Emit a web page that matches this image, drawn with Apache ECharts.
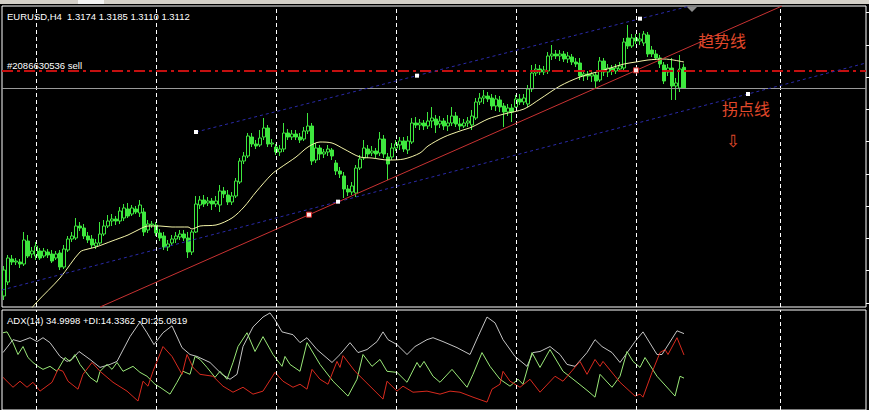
<!DOCTYPE html>
<html><head><meta charset="utf-8">
<script src="https://cdn.jsdelivr.net/npm/echarts@6/dist/echarts.min.js"></script>
<style>html,body{margin:0;padding:0;background:#000;overflow:hidden}#c{width:869px;height:410px}</style>
</head><body><div id="c"></div>
<script>
// ---- price data (EURUSD H4), bar index 0..170 ----
const opens = [1.2488,1.2530,1.2599,1.2590,1.2590,1.2584,1.2653,1.2614,1.2608,1.2623,
1.2608,1.2620,1.2614,1.2602,1.2617,1.2575,1.2626,1.2659,1.2662,1.2698,
1.2692,1.2668,1.2659,1.2638,1.2647,1.2674,1.2698,1.2713,1.2719,1.2713,
1.2722,1.2749,1.2734,1.2749,1.2737,1.2740,1.2686,1.2701,1.2701,1.2677,
1.2668,1.2635,1.2647,1.2659,1.2665,1.2674,1.2662,1.2620,1.2680,1.2761,
1.2776,1.2767,1.2773,1.2764,1.2761,1.2803,1.2791,1.2770,1.2788,1.2830,
1.2893,1.2908,1.2965,1.2944,1.2941,1.2965,1.2992,1.2944,1.2935,1.2920,
1.2929,1.2977,1.2965,1.2974,1.2965,1.2959,1.2983,1.2998,1.2896,1.2932,
1.2914,1.2920,1.2926,1.2887,1.2863,1.2848,1.2809,1.2800,1.2797,1.2872,
1.2902,1.2929,1.2917,1.2923,1.2917,1.2959,1.2905,1.2905,1.2932,1.2941,
1.2953,1.2926,1.2950,1.3007,1.3001,1.3007,1.2998,1.3013,1.3019,1.3004,
1.3013,1.2998,1.3007,1.3028,1.3004,1.2998,1.3007,1.3001,1.3022,1.3070,
1.3082,1.3088,1.3082,1.3058,1.3076,1.3058,1.3040,1.3052,1.3055,1.3079,
1.3070,1.3064,1.3109,1.3157,1.3169,1.3160,1.3163,1.3208,1.3214,1.3208,
1.3214,1.3199,1.3205,1.3190,1.3187,1.3148,1.3154,1.3148,1.3151,1.3136,
1.3193,1.3160,1.3172,1.3163,1.3169,1.3172,1.3262,1.3238,1.3262,1.3253,
1.3247,1.3271,1.3226,1.3214,1.3202,1.3181,1.3160,1.3172,1.3118,1.3112,
1.3174];
const closes = [1.2566,1.2602,1.2590,1.2593,1.2584,1.2656,1.2608,1.2623,1.2638,1.2602,
1.2623,1.2611,1.2593,1.2614,1.2575,1.2629,1.2659,1.2668,1.2698,1.2692,
1.2668,1.2656,1.2641,1.2647,1.2674,1.2698,1.2713,1.2719,1.2713,1.2743,
1.2752,1.2728,1.2752,1.2740,1.2761,1.2680,1.2704,1.2704,1.2677,1.2662,
1.2635,1.2644,1.2659,1.2668,1.2674,1.2662,1.2620,1.2680,1.2764,1.2776,
1.2764,1.2773,1.2764,1.2773,1.2803,1.2794,1.2770,1.2788,1.2833,1.2893,
1.2908,1.2968,1.2944,1.2938,1.2962,1.2992,1.2944,1.2947,1.2920,1.2929,
1.2977,1.2965,1.2974,1.2965,1.2956,1.2983,1.2998,1.2893,1.2932,1.2914,
1.2920,1.2929,1.2908,1.2863,1.2854,1.2809,1.2800,1.2818,1.2872,1.2899,
1.2932,1.2914,1.2923,1.2914,1.2959,1.2914,1.2884,1.2932,1.2944,1.2953,
1.2929,1.2953,1.3007,1.3001,1.3007,1.2998,1.3013,1.3022,1.3001,1.3013,
1.2998,1.3007,1.3028,1.3004,1.2998,1.3007,1.3013,1.3028,1.3070,1.3082,
1.3088,1.3079,1.3058,1.3079,1.3055,1.3040,1.3052,1.3040,1.3079,1.3070,
1.3082,1.3109,1.3157,1.3169,1.3160,1.3166,1.3208,1.3214,1.3208,1.3214,
1.3199,1.3208,1.3190,1.3184,1.3148,1.3154,1.3148,1.3154,1.3133,1.3193,
1.3160,1.3172,1.3163,1.3172,1.3178,1.3250,1.3238,1.3262,1.3253,1.3259,
1.3274,1.3214,1.3214,1.3202,1.3184,1.3133,1.3172,1.3118,1.3127,1.3169,
1.3112];
const lows = [1.2476,1.2521,1.2581,1.2581,1.2572,1.2578,1.2602,1.2602,1.2596,1.2596,
1.2602,1.2602,1.2587,1.2596,1.2566,1.2569,1.2620,1.2650,1.2656,1.2683,
1.2659,1.2647,1.2632,1.2629,1.2641,1.2668,1.2692,1.2698,1.2701,1.2704,
1.2713,1.2722,1.2728,1.2734,1.2725,1.2668,1.2677,1.2692,1.2668,1.2653,
1.2626,1.2623,1.2638,1.2647,1.2656,1.2653,1.2602,1.2611,1.2677,1.2749,
1.2755,1.2758,1.2746,1.2755,1.2740,1.2782,1.2761,1.2761,1.2782,1.2824,
1.2884,1.2902,1.2935,1.2929,1.2935,1.2956,1.2935,1.2935,1.2911,1.2908,
1.2920,1.2956,1.2956,1.2956,1.2947,1.2953,1.2974,1.2881,1.2887,1.2896,
1.2902,1.2908,1.2896,1.2851,1.2842,1.2782,1.2788,1.2791,1.2785,1.2866,
1.2896,1.2902,1.2908,1.2902,1.2908,1.2902,1.2836,1.2896,1.2923,1.2926,
1.2920,1.2914,1.2944,1.2992,1.2986,1.2986,1.2989,1.2992,1.2977,1.2992,
1.2986,1.2983,1.2998,1.2995,1.2986,1.2992,1.2995,1.2986,1.3016,1.3061,
1.3064,1.3070,1.3046,1.3043,1.3040,1.2995,1.3028,1.3010,1.3052,1.3061,
1.3061,1.3055,1.3100,1.3148,1.3151,1.3151,1.3154,1.3196,1.3199,1.3193,
1.3190,1.3187,1.3181,1.3175,1.3136,1.3133,1.3136,1.3130,1.3112,1.3130,
1.3148,1.3145,1.3151,1.3154,1.3160,1.3166,1.3229,1.3232,1.3244,1.3241,
1.3238,1.3205,1.3205,1.3196,1.3172,1.3124,1.3148,1.3076,1.3076,1.3100,
1.3110];
const highs = [1.2578,1.2611,1.2611,1.2602,1.2599,1.2680,1.2671,1.2635,1.2650,1.2632,
1.2632,1.2629,1.2626,1.2623,1.2626,1.2641,1.2668,1.2680,1.2722,1.2710,
1.2704,1.2680,1.2671,1.2659,1.2710,1.2716,1.2731,1.2734,1.2728,1.2755,
1.2764,1.2767,1.2761,1.2758,1.2776,1.2752,1.2716,1.2713,1.2710,1.2689,
1.2680,1.2656,1.2671,1.2680,1.2686,1.2686,1.2680,1.2686,1.2788,1.2788,
1.2791,1.2785,1.2782,1.2788,1.2821,1.2815,1.2806,1.2800,1.2842,1.2902,
1.2920,1.2977,1.2977,1.2956,1.2986,1.3022,1.3001,1.2959,1.2944,1.2941,
1.3007,1.2989,1.2986,1.2986,1.2977,1.2995,1.3037,1.3007,1.2947,1.2941,
1.2929,1.2941,1.2932,1.2896,1.2875,1.2860,1.2821,1.2830,1.2881,1.2911,
1.2956,1.2941,1.2938,1.2932,1.2980,1.2971,1.2917,1.2947,1.2956,1.2965,
1.2965,1.2968,1.3022,1.3025,1.3019,1.3016,1.3040,1.3055,1.3031,1.3028,
1.3022,1.3031,1.3055,1.3040,1.3022,1.3019,1.3025,1.3046,1.3082,1.3097,
1.3106,1.3100,1.3094,1.3091,1.3088,1.3067,1.3064,1.3064,1.3091,1.3094,
1.3094,1.3121,1.3181,1.3184,1.3181,1.3178,1.3220,1.3241,1.3226,1.3226,
1.3223,1.3220,1.3214,1.3202,1.3202,1.3166,1.3163,1.3166,1.3160,1.3205,
1.3202,1.3184,1.3181,1.3184,1.3190,1.3262,1.3301,1.3274,1.3274,1.3277,
1.3283,1.3280,1.3238,1.3226,1.3211,1.3190,1.3184,1.3202,1.3142,1.3211,
1.3185];

// moving average: [bar, price]
const maPoints = [[5,1.2422],[8,1.2467],[14,1.2542],[19,1.2620],[21,1.2629],[23,1.2635],[27,1.2653],[31,1.2671],[34,1.2689],[36,1.2698],[39,1.2698],[42,1.2695],[46,1.2695],[47,1.2689],[49,1.2698],[53,1.2701],[57,1.2722],[60,1.2755],[63,1.2800],[67,1.2854],[69,1.2872],[73,1.2905],[76,1.2935],[79,1.2950],[82,1.2947],[85,1.2929],[89,1.2905],[92,1.2902],[96,1.2896],[100,1.2899],[104,1.2917],[106,1.2938],[110,1.2965],[114,1.2983],[117,1.2995],[121,1.3019],[125,1.3034],[130,1.3049],[134,1.3079],[139,1.3118],[144,1.3145],[150,1.3166],[155,1.3184],[158,1.3190],[161,1.3196],[165,1.3199],[170,1.3190]];

// drawn objects: [bar, price]
const trendLine = [[24,1.2455],[194.5,1.3358]];
const trendAnchors = [[76.25,1.2732],[158,1.3165]];
const upperChannel = [[48,1.2980],[171.5,1.3358]];
const lowerChannel = [[-0.5,1.2506],[215.5,1.3187]];
const channelAnchors = [[48,1.2980],[103.25,1.3149],[159,1.3320],[83.5,1.2771],[186,1.3094]];
const sellPrice = 1.3163;
const bidPrice = 1.3112;
const gridBars = [8,38,68,98,128,158,194];
const priceTicks = [1.2467,1.2564,1.2661,1.2757,1.2854,1.2951,1.3048,1.3144,1.3241,1.3338];

// ADX(14) panel: [bar, value]
const adx = [[-0.25,26.2],[2.25,32.2],[4,31.3],[6.5,33.1],[8.25,31.3],[9.75,33.1],[11.5,30.8],[14,24.4],[15.75,22.1],[17,23.0],[18.75,26.7],[21.5,23.0],[24,19.3],[26.5,20.7],[28.25,22.1],[31.5,33.6],[34,40.4],[35.75,35.4],[37.5,29.9],[39.75,35.4],[42,38.6],[44.5,28.5],[46.5,25.3],[48.25,24.4],[51.5,21.6],[54.5,16.1],[56.5,13.8],[58.25,16.1],[59.75,29.0],[62.25,38.1],[64.75,42.7],[66.5,44.6],[67.75,41.4],[69.5,35.8],[72.25,34.5],[74,30.8],[75.75,33.1],[78.25,27.6],[82,21.6],[84,25.3],[86.5,30.8],[88.5,26.2],[90.75,27.6],[93.25,31.3],[94.75,35.8],[96,32.2],[98.25,29.9],[100.75,25.3],[102.75,29.0],[105.75,32.2],[107.25,33.1],[109.75,31.3],[113.25,28.5],[116.5,25.3],[118.5,33.6],[120.75,42.7],[122.75,40.0],[124.75,32.2],[127.75,24.4],[130.75,19.8],[132.25,26.2],[134,26.7],[136.5,29.0],[139,25.3],[140.75,20.7],[142.75,19.8],[145.75,26.2],[147.75,32.2],[149.5,29.0],[152,26.2],[154,21.6],[156,26.7],[157.75,31.3],[159.75,35.8],[163.25,25.3],[164.5,25.3],[168.25,36.3],[170,35.0]];
const plusDI = [[-0.25,35.4],[0.75,35.8],[2.25,30.8],[3.5,25.3],[4.75,29.0],[6,23.9],[7.25,21.6],[8.5,19.8],[9.75,18.4],[11.5,19.8],[13.25,17.5],[15.25,23.9],[16.5,22.1],[17.75,25.3],[19,20.7],[21.5,14.7],[23.25,12.4],[24,17.5],[25.75,20.7],[27,18.4],[28.25,21.6],[29.75,17.5],[32.25,19.8],[34,17.0],[35.75,15.2],[37.75,11.5],[39,10.1],[41.5,6.9],[43.25,12.4],[44.75,17.5],[46.5,16.1],[47.75,24.4],[49,23.0],[50.75,19.3],[52.75,14.7],[54,17.5],[55.75,13.8],[57.25,21.6],[58.5,29.0],[60.75,35.4],[62.75,26.7],[64.75,33.6],[67.25,25.3],[69.5,19.8],[70.25,24.4],[71.5,20.7],[74,17.5],[75.75,30.8],[79,20.7],[82.25,12.9],[86,6.0],[88.25,13.8],[89.75,25.3],[92,19.8],[94,23.0],[95.75,17.5],[98.25,17.0],[100.75,12.4],[103.25,21.6],[104,19.3],[105,22.1],[107.25,15.2],[109,12.4],[112,18.4],[115.75,10.1],[117.25,16.1],[119.5,26.2],[121.5,19.8],[124,13.8],[126.5,10.6],[128.5,13.8],[129.75,11.5],[132,26.2],[134,19.3],[136.5,27.6],[139.75,17.5],[143.25,12.4],[146,8.3],[147.75,5.5],[149,16.1],[152,10.1],[154,15.2],[155.75,26.7],[157.25,22.1],[159,19.3],[160.25,23.9],[163.25,15.2],[167.75,6.0],[169,15.2],[170,14.34]];
const minusDI = [[-0.25,14.7],[2.25,10.1],[4,12.9],[5.75,10.1],[7.25,12.4],[9,8.3],[12,12.4],[13.5,18.4],[14.75,17.5],[16,12.9],[18.5,9.2],[19.75,16.1],[22,21.6],[24,17.5],[27.25,12.4],[30.75,8.3],[33.5,3.7],[34.75,12.9],[36,10.6],[37.25,17.5],[39.75,29.0],[42,24.4],[44.5,16.1],[45.75,25.3],[47.25,19.3],[49,16.1],[52.25,15.2],[54.75,10.6],[57.25,7.8],[59.75,10.1],[62.25,6.9],[64.75,8.3],[67.75,17.0],[69.75,12.9],[72.25,10.1],[74,11.5],[75.75,9.2],[77,18.4],[79,13.8],[81,11.5],[83.25,22.1],[84,19.3],[84.75,24.8],[87.75,17.5],[91.5,10.6],[94.75,4.6],[95.75,12.9],[98.25,8.3],[99.75,10.6],[102.25,7.8],[105.75,8.3],[109,6.9],[111.5,8.3],[114,7.8],[117.25,5.5],[120.75,3.2],[122,9.2],[124,11.5],[124.75,17.5],[126.5,12.9],[129,10.1],[131.5,13.8],[134,7.8],[137.75,15.2],[139.75,12.9],[144,22.1],[145.75,16.1],[147.75,23.0],[149,19.8],[149.75,22.1],[154,12.4],[157.75,6.0],[159,6.9],[159.75,5.5],[162,17.0],[164,26.2],[165.25,27.6],[166,25.3],[168.25,33.1],[170,25.08]];

const headerSymbol = 'EURUSD,H4';
const headerPrices = '1.3174 1.3185 1.3110 1.3112';
const orderLabel = '#2086630536 sell';
const adxLabel = 'ADX(14) 34.9998 +DI:14.3362 -DI:25.0819';

// ---- chart ----
const SLOTS = 216;
const slots = Array.from({length: SLOTS}, (_, i) => String(i));
const candles = opens.map((o, i) => [o, closes[i], lows[i], highs[i]]);
const green = '#3ee83e';
const font = '"Liberation Sans", Arial, sans-serif';
const vlines = gridBars.map(b => ({xAxis: b}));

function levelSeries(xi, yi, y0, lines, style, z) {
  return {type: 'line', xAxisIndex: xi, yAxisIndex: yi, data: [[-5, y0]], symbol: 'none', z: z, silent: true,
    lineStyle: {width: 0}, itemStyle: {color: style.color},
    markLine: {silent: true, precision: 4, symbol: ['none', 'none'], label: {show: false},
      emphasis: {disabled: true}, lineStyle: style, data: lines}};
}

const chart = echarts.init(document.getElementById('c'), null, {renderer: 'svg', width: 869, height: 410});
chart.setOption({
  backgroundColor: '#000',
  animation: false,
  grid: [
    {left: 2, right: 3, top: 6, height: 301, show: true, borderColor: '#ffffff', borderWidth: 1, backgroundColor: '#000'},
    {left: 2, right: 3, top: 310, height: 101, show: true, borderColor: '#ffffff', borderWidth: 1, backgroundColor: '#000'}
  ],
  xAxis: [
    {type: 'category', gridIndex: 0, data: slots, boundaryGap: true, show: false},
    {type: 'value', gridIndex: 0, min: -0.5, max: SLOTS - 0.5, show: false},
    {type: 'value', gridIndex: 1, min: -0.5, max: SLOTS - 0.5, show: false}
  ],
  yAxis: [
    {type: 'value', gridIndex: 0, min: 1.2455, max: 1.3358, position: 'right',
     axisLine: {show: false, onZero: false}, axisLabel: {show: false}, splitLine: {show: false},
     axisTick: {show: true, inside: false, length: 3, lineStyle: {color: '#ffffff'}, customValues: priceTicks}},
    {type: 'value', gridIndex: 1, min: -0.46, max: 45.96, show: false}
  ],
  series: [
    levelSeries(1, 0, 1.25, vlines, {color: '#ffffff', type: [4, 3], width: 1}, 1),
    levelSeries(2, 1, 0, vlines, {color: '#ffffff', type: [4, 3], width: 1}, 1),
    levelSeries(1, 0, 1.25, [{yAxis: sellPrice}], {color: '#c41010', type: [11, 4, 3, 4], width: 2, opacity: 1}, 2),
    levelSeries(1, 0, 1.25, [{yAxis: bidPrice}], {color: '#9a9a9a', type: 'solid', width: 1, opacity: 1}, 2),
    {type: 'candlestick', xAxisIndex: 0, yAxisIndex: 0, data: candles, barWidth: 3, z: 3, silent: true,
     itemStyle: {color: '#000', color0: green, borderColor: green, borderColor0: green, borderWidth: 1}},
    {type: 'line', xAxisIndex: 1, yAxisIndex: 0, data: maPoints, symbol: 'none', smooth: 0.3, z: 4, silent: true,
     lineStyle: {color: '#f4f4a8', width: 1}},
    {type: 'line', xAxisIndex: 1, yAxisIndex: 0, data: lowerChannel, symbol: 'none', z: 5, silent: true,
     lineStyle: {color: '#2a2aa8', width: 1, type: [3, 3]}},
    {type: 'line', xAxisIndex: 1, yAxisIndex: 0, data: upperChannel, symbol: 'none', z: 5, silent: true,
     lineStyle: {color: '#2a2aa8', width: 1, type: [3, 3]}},
    {type: 'line', xAxisIndex: 1, yAxisIndex: 0, data: trendLine, symbol: 'none', z: 5, silent: true,
     lineStyle: {color: '#c83232', width: 1}},
    {type: 'scatter', xAxisIndex: 1, yAxisIndex: 0, data: channelAnchors, symbol: 'rect', symbolSize: 4, z: 6, silent: true,
     itemStyle: {color: '#ffffff', opacity: 1}},
    {type: 'scatter', xAxisIndex: 1, yAxisIndex: 0, data: trendAnchors, symbol: 'rect', symbolSize: 5, z: 6, silent: true,
     itemStyle: {color: '#ffe4e4', borderColor: '#d02828', borderWidth: 1, opacity: 1}},
    {type: 'line', xAxisIndex: 2, yAxisIndex: 1, data: adx, symbol: 'none', z: 3, silent: true,
     lineStyle: {color: '#c4c4c4', width: 1}},
    {type: 'line', xAxisIndex: 2, yAxisIndex: 1, data: plusDI, symbol: 'none', z: 4, silent: true,
     lineStyle: {color: '#9ae878', width: 1}},
    {type: 'line', xAxisIndex: 2, yAxisIndex: 1, data: minusDI, symbol: 'none', z: 4, silent: true,
     lineStyle: {color: '#d82a1e', width: 1}}
  ],
  graphic: [
    {type: 'rect', z: 100, shape: {x: 0, y: 0, width: 869, height: 4}, style: {fill: '#d4d0c8'}},
    {type: 'rect', z: 101, shape: {x: 78, y: 0, width: 26, height: 4}, style: {fill: '#f4f4f4'}},
    {type: 'polygon', z: 100, shape: {points: [[687, 7], [697, 7], [692, 12]]}, style: {fill: '#8c8c8c'}},
    {type: 'text', z: 100, x: 7, y: 16, style: {text: headerSymbol, fill: '#ffffff', font: '9.5px ' + font, verticalAlign: 'middle'}},
    {type: 'text', z: 100, x: 67, y: 16, style: {text: headerPrices, fill: '#ffffff', font: '9.5px ' + font, verticalAlign: 'middle'}},
    {type: 'text', z: 100, x: 7, y: 65.5, style: {text: orderLabel, fill: '#ffffff', font: '9.5px ' + font, verticalAlign: 'middle'}},
    {type: 'text', z: 100, x: 7, y: 320.5, style: {text: adxLabel, fill: '#ffffff', font: '9.5px ' + font, verticalAlign: 'middle'}},
    {type: 'text', z: 100, x: 698, y: 40, style: {text: '趋势线', fill: '#e0482a', font: '16px "Noto Sans CJK SC", sans-serif', verticalAlign: 'middle'}},
    {type: 'text', z: 100, x: 722, y: 108, style: {text: '拐点线', fill: '#e0482a', font: '16px "Noto Sans CJK SC", sans-serif', verticalAlign: 'middle'}},
    {type: 'text', z: 100, x: 733, y: 141, style: {text: '⇩', fill: '#e0482a', font: '17px "DejaVu Sans", sans-serif', align: 'center', verticalAlign: 'middle'}}
  ]
});
</script></body></html>
